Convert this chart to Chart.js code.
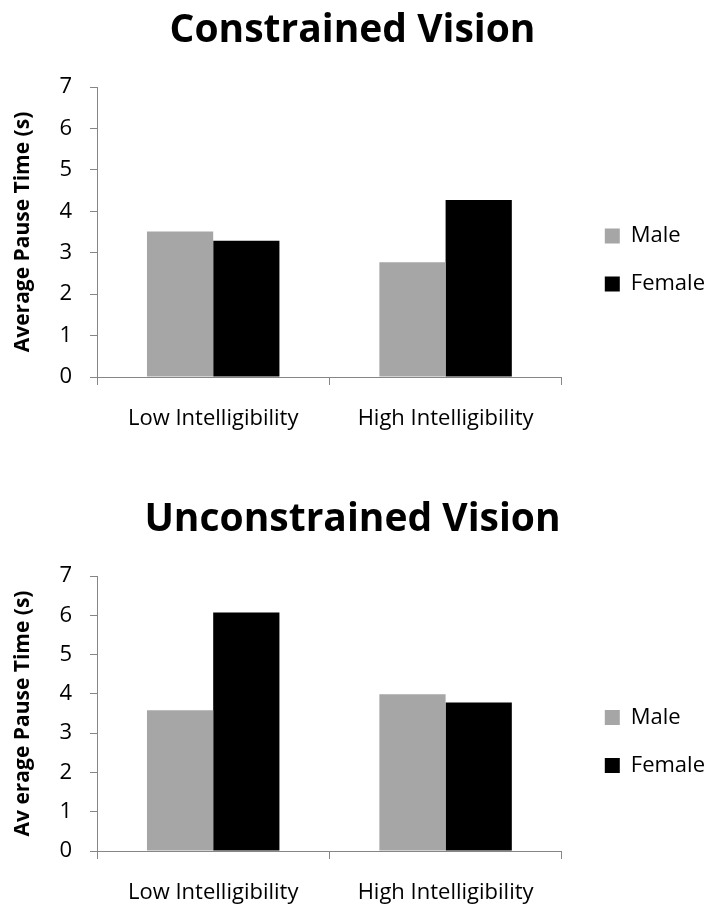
<!DOCTYPE html>
<html>
<head>
<meta charset="utf-8">
<title>Average Pause Time</title>
<script src="https://cdn.jsdelivr.net/npm/chart.js@4/dist/chart.umd.min.js"></script>
<style>
    html, body { margin: 0; padding: 0; background: #fff; }
    body { width: 705px; height: 914px; position: relative; overflow: hidden; }
    .chart-box { position: absolute; left: 0; width: 705px; height: 457px; }
    #constrainedBox { top: 0; }
    #unconstrainedBox { top: 457px; }
</style>
</head>
<body>
<div class="chart-box" id="constrainedBox"><canvas id="constrainedChart" width="705" height="457"></canvas></div>
<div class="chart-box" id="unconstrainedBox"><canvas id="unconstrainedChart" width="705" height="457"></canvas></div>

<script>
// Data
const categories = ['Low Intelligibility', 'High Intelligibility'];
const seriesNames = ['Male', 'Female'];
const constrainedMale = [3.51, 2.77];
const constrainedFemale = [3.29, 4.27];
const unconstrainedMale = [3.58, 3.99];
const unconstrainedFemale = [6.07, 3.78];
const yMin = 0;
const yMax = 7;
const yStep = 1;

document.addEventListener('DOMContentLoaded', function() {
    Chart.defaults.font.family = "'Open Sans', 'DejaVu Sans', sans-serif";
    Chart.defaults.color = '#000';

    const axisGray = '#868686';

    function makeChart(canvasId, title, yTitle, maleData, femaleData, layout) {
        const ctx = document.getElementById(canvasId).getContext('2d');
        return new Chart(ctx, {
            type: 'bar',
            data: {
                labels: categories,
                datasets: [{
                    label: seriesNames[0],
                    data: maleData,
                    backgroundColor: '#a6a6a6',
                    borderWidth: 0
                }, {
                    label: seriesNames[1],
                    data: femaleData,
                    backgroundColor: '#000000',
                    borderWidth: 0
                }]
            },
            options: {
                responsive: false,
                animation: false,
                layout: {
                    padding: { left: -10, right: -10, top: 0, bottom: layout.bottom }
                },
                datasets: {
                    bar: { barPercentage: 1, categoryPercentage: 0.57 }
                },
                plugins: {
                    title: {
                        display: true,
                        text: title,
                        font: { size: 39, weight: 'bold' },
                        padding: { top: layout.titleTop, bottom: layout.titleBottom }
                    },
                    legend: {
                        position: 'right',
                        fullSize: false,
                        maxWidth: 200,
                        title: { display: true, text: '', font: { size: 10 }, padding: { top: 22, bottom: 22 } },
                        labels: {
                            boxWidth: 15,
                            boxHeight: 15,
                            padding: 26,
                            font: { size: 22 }
                        }
                    },
                    tooltip: { enabled: false }
                },
                scales: {
                    x: {
                        grid: {
                            display: true,
                            drawOnChartArea: false,
                            drawTicks: true,
                            tickLength: 8,
                            color: axisGray
                        },
                        border: { color: axisGray, width: 1 },
                        ticks: { font: { size: 22 }, padding: 21, maxRotation: 0 },
                        afterFit: function(scale) { scale.height = 56; }
                    },
                    y: {
                        min: yMin,
                        max: yMax,
                        grid: {
                            display: true,
                            drawOnChartArea: false,
                            drawTicks: true,
                            tickLength: 7,
                            color: axisGray
                        },
                        border: { color: axisGray, width: 1 },
                        ticks: { stepSize: yStep, font: { size: 22 }, padding: 18 },
                        title: {
                            display: true,
                            text: yTitle,
                            font: { size: 21, weight: 'bold' },
                            padding: { top: 20, bottom: 4 }
                        },
                        afterFit: function(scale) { scale.width = 107; }
                    },
                    // empty axis only keeps the gap between bars and legend
                    gap: {
                        type: 'linear',
                        position: 'right',
                        display: true,
                        grid: { display: false },
                        border: { display: false },
                        ticks: { display: false },
                        afterFit: function(scale) { scale.width = 17; }
                    }
                }
            }
        });
    }

    makeChart('constrainedChart', 'Constrained Vision', 'Average Pause Time (s)',
        constrainedMale, constrainedFemale, { titleTop: 7, titleBottom: 33.2, bottom: 24 });

    makeChart('unconstrainedChart', 'Unconstrained Vision', 'Av erage Pause Time (s)',
        unconstrainedMale, unconstrainedFemale, { titleTop: 39, titleBottom: 33.2, bottom: 7 });
});
</script>
</body>
</html>
